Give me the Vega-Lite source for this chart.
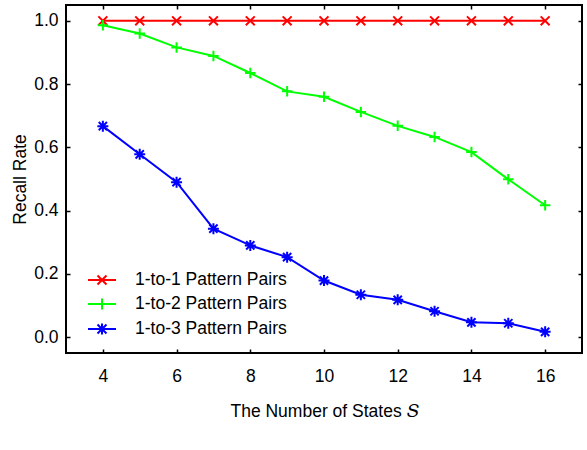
{
  "$schema": "https://vega.github.io/schema/vega-lite/v6.json",
  "autosize": {"type": "none"},
  "padding": {"left": 66, "top": 5, "right": 5, "bottom": 97},
  "width": 516,
  "height": 348,
  "background": "white",
  "config": {
    "view": {"stroke": "black", "strokeWidth": 2},
    "font": "Liberation Sans",
    "axis": {
      "domain": false,
      "grid": false,
      "tickColor": "black",
      "tickSize": -4,
      "tickWidth": 1.5,
      "labelFont": "Liberation Sans",
      "labelFontSize": 17.5,
      "labelColor": "black",
      "titleFont": "Liberation Sans",
      "titleFontSize": 17.5,
      "titleFontWeight": "normal",
      "titleColor": "black"
    },
    "legend": {
      "title": null,
      "orient": "none",
      "legendX": 25,
      "legendY": 264,
      "padding": 0,
      "symbolSize": 400,
      "symbolStrokeWidth": 2,
      "labelFontSize": 17.5,
      "labelFont": "Liberation Sans",
      "labelColor": "black",
      "labelOffset": 22,
      "rowPadding": 4
    }
  },
  "data": {
    "values": [
      {"S": 4, "series": "1-to-1 Pattern Pairs", "rate": 1.0},
      {"S": 5, "series": "1-to-1 Pattern Pairs", "rate": 1.0},
      {"S": 6, "series": "1-to-1 Pattern Pairs", "rate": 1.0},
      {"S": 7, "series": "1-to-1 Pattern Pairs", "rate": 1.0},
      {"S": 8, "series": "1-to-1 Pattern Pairs", "rate": 1.0},
      {"S": 9, "series": "1-to-1 Pattern Pairs", "rate": 1.0},
      {"S": 10, "series": "1-to-1 Pattern Pairs", "rate": 1.0},
      {"S": 11, "series": "1-to-1 Pattern Pairs", "rate": 1.0},
      {"S": 12, "series": "1-to-1 Pattern Pairs", "rate": 1.0},
      {"S": 13, "series": "1-to-1 Pattern Pairs", "rate": 1.0},
      {"S": 14, "series": "1-to-1 Pattern Pairs", "rate": 1.0},
      {"S": 15, "series": "1-to-1 Pattern Pairs", "rate": 1.0},
      {"S": 16, "series": "1-to-1 Pattern Pairs", "rate": 1.0},
      {"S": 4, "series": "1-to-2 Pattern Pairs", "rate": 0.986},
      {"S": 5, "series": "1-to-2 Pattern Pairs", "rate": 0.960},
      {"S": 6, "series": "1-to-2 Pattern Pairs", "rate": 0.916},
      {"S": 7, "series": "1-to-2 Pattern Pairs", "rate": 0.889},
      {"S": 8, "series": "1-to-2 Pattern Pairs", "rate": 0.835},
      {"S": 9, "series": "1-to-2 Pattern Pairs", "rate": 0.777},
      {"S": 10, "series": "1-to-2 Pattern Pairs", "rate": 0.760},
      {"S": 11, "series": "1-to-2 Pattern Pairs", "rate": 0.712},
      {"S": 12, "series": "1-to-2 Pattern Pairs", "rate": 0.668},
      {"S": 13, "series": "1-to-2 Pattern Pairs", "rate": 0.633},
      {"S": 14, "series": "1-to-2 Pattern Pairs", "rate": 0.585},
      {"S": 15, "series": "1-to-2 Pattern Pairs", "rate": 0.499},
      {"S": 16, "series": "1-to-2 Pattern Pairs", "rate": 0.417},
      {"S": 4, "series": "1-to-3 Pattern Pairs", "rate": 0.667},
      {"S": 5, "series": "1-to-3 Pattern Pairs", "rate": 0.578},
      {"S": 6, "series": "1-to-3 Pattern Pairs", "rate": 0.490},
      {"S": 7, "series": "1-to-3 Pattern Pairs", "rate": 0.343},
      {"S": 8, "series": "1-to-3 Pattern Pairs", "rate": 0.290},
      {"S": 9, "series": "1-to-3 Pattern Pairs", "rate": 0.253},
      {"S": 10, "series": "1-to-3 Pattern Pairs", "rate": 0.179},
      {"S": 11, "series": "1-to-3 Pattern Pairs", "rate": 0.134},
      {"S": 12, "series": "1-to-3 Pattern Pairs", "rate": 0.118},
      {"S": 13, "series": "1-to-3 Pattern Pairs", "rate": 0.082},
      {"S": 14, "series": "1-to-3 Pattern Pairs", "rate": 0.047},
      {"S": 15, "series": "1-to-3 Pattern Pairs", "rate": 0.044},
      {"S": 16, "series": "1-to-3 Pattern Pairs", "rate": 0.017}
    ]
  },
  "layer": [
    {
      "transform": [{"filter": {"field": "S", "gt": 100}}],
      "mark": {"type": "point", "filled": false, "strokeWidth": 2, "opacity": 1},
      "encoding": {
        "x": {
          "field": "S", "type": "quantitative",
          "scale": {"domain": [3, 17], "nice": false, "zero": false},
          "axis": {"orient": "bottom", "values": [4, 6, 8, 10, 12, 14, 16], "labelPadding": 18, "title": "The Number of States 𝑆", "titlePadding": 18}
        },
        "y": {
          "field": "rate", "type": "quantitative",
          "scale": {"domain": [-0.05, 1.05], "nice": false, "zero": false},
          "axis": {"orient": "left", "values": [0, 0.2, 0.4, 0.6, 0.8, 1.0], "format": ".1f", "labelPadding": 12, "title": "Recall Rate", "titlePadding": 4}
        },
        "color": {
          "field": "series", "type": "nominal",
          "scale": {"domain": ["1-to-1 Pattern Pairs", "1-to-2 Pattern Pairs", "1-to-3 Pattern Pairs"], "range": ["#ff0000", "#00ff00", "#0000ff"]}
        },
        "shape": {
          "field": "series", "type": "nominal",
          "scale": {"domain": ["1-to-1 Pattern Pairs", "1-to-2 Pattern Pairs", "1-to-3 Pattern Pairs"], "range": ["M-1.4,0H1.4M-0.45,-0.45L0.45,0.45M-0.45,0.45L0.45,-0.45", "M-1.4,0H1.4M0,-0.55V0.55", "M-1.4,0H1.4M0,-0.55V0.55M-0.45,-0.45L0.45,0.45M-0.45,0.45L0.45,-0.45"]}
        }
      }
    },
    {
      "mark": {"type": "line", "strokeWidth": 2},
      "encoding": {
        "x": {"field": "S", "type": "quantitative", "axis": null},
        "y": {"field": "rate", "type": "quantitative", "axis": null},
        "color": {"field": "series", "type": "nominal"}
      }
    },
    {
      "transform": [{"filter": {"field": "series", "equal": "1-to-1 Pattern Pairs"}}],
      "mark": {"type": "point", "filled": false, "strokeWidth": 2, "size": 110, "opacity": 1, "shape": "M-0.85,-0.85L0.85,0.85M-0.85,0.85L0.85,-0.85"},
      "encoding": {
        "x": {
          "field": "S", "type": "quantitative",
          "axis": {"orient": "top", "values": [4, 6, 8, 10, 12, 14, 16], "labels": false, "title": null}
        },
        "y": {
          "field": "rate", "type": "quantitative",
          "axis": {"orient": "right", "values": [0, 0.2, 0.4, 0.6, 0.8, 1.0], "labels": false, "title": null}
        },
        "color": {"field": "series", "type": "nominal"}
      }
    },
    {
      "transform": [{"filter": {"field": "series", "equal": "1-to-2 Pattern Pairs"}}],
      "mark": {"type": "point", "filled": false, "strokeWidth": 2, "size": 110, "opacity": 1, "shape": "M-1,0H1M0,-1V1"},
      "encoding": {
        "x": {"field": "S", "type": "quantitative", "axis": null},
        "y": {"field": "rate", "type": "quantitative", "axis": null},
        "color": {"field": "series", "type": "nominal"}
      }
    },
    {
      "transform": [{"filter": {"field": "series", "equal": "1-to-3 Pattern Pairs"}}],
      "mark": {"type": "point", "filled": false, "strokeWidth": 2, "size": 121, "opacity": 1, "shape": "M-1,0H1M0,-1V1M-0.75,-0.75L0.75,0.75M-0.75,0.75L0.75,-0.75"},
      "encoding": {
        "x": {"field": "S", "type": "quantitative", "axis": null},
        "y": {"field": "rate", "type": "quantitative", "axis": null},
        "color": {"field": "series", "type": "nominal"}
      }
    }
  ],
  "resolve": {"axis": {"x": "independent", "y": "independent"}}
}
